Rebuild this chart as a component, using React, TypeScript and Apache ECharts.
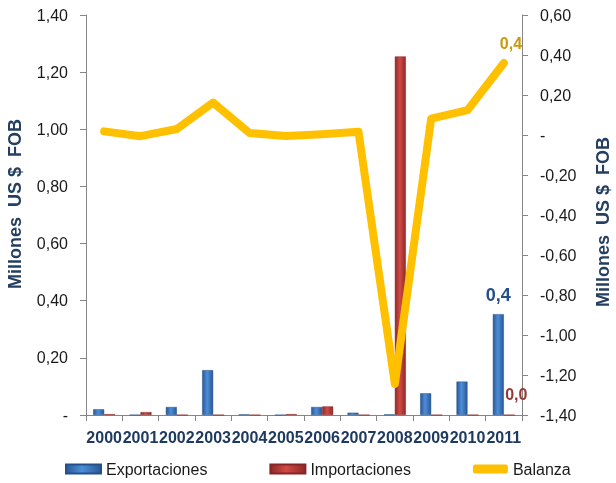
import React, { useEffect, useRef } from "react";
import * as echarts from "echarts";

const categories = ["2000", "2001", "2002", "2003", "2004", "2005", "2006", "2007", "2008", "2009", "2010", "2011"];
const exportaciones = [0.02, 0, 0.028, 0.157, 0.002, 0, 0.028, 0.008, 0.002, 0.076, 0.117, 0.353];
const importaciones = [0.003, 0.01, 0, 0, 0, 0.003, 0.03, 0, 1.255, 0, 0, 0];
const balanza = [0.018, -0.006, 0.03, 0.162, 0.01, -0.005, 0.004, 0.016, -1.245, 0.082, 0.124, 0.36];
const leftTicks = { min: 0, max: 1.4, interval: 0.2 };
const rightTicks = { min: -1.4, max: 0.6, interval: 0.2 };
const axisTitle = "Millones  US $  FOB";

const fmt2 = (v: number) => (Math.abs(v) < 1e-9 ? "-" : v.toFixed(2).replace(".", ","));
const fmt1 = (v: number) => v.toFixed(1).replace(".", ",");

const barGrad = (edge: string, mid: string) =>
  new echarts.graphic.LinearGradient(0, 0, 1, 0, [
    { offset: 0, color: edge },
    { offset: 0.45, color: mid },
    { offset: 1, color: edge },
  ]);

export default function App() {
  const ref = useRef<HTMLDivElement>(null);
  useEffect(() => {
    if (!ref.current) return;
    const chart = echarts.init(ref.current, undefined, { renderer: "svg" });
    const last = categories.length - 1;
    const axisLabelStyle = { fontFamily: "Liberation Sans, Arial", fontSize: 16, color: "#1a1a1a" };
    const titleStyle = {
      text: axisTitle,
      fontFamily: "Liberation Sans, Arial",
      fontSize: 18,
      fontWeight: "bold",
      fill: "#243F60",
      align: "center",
      verticalAlign: "middle",
    };
    chart.setOption({
      animation: false,
      grid: { left: 86, right: 94, top: 15, bottom: 68, containLabel: false },
      legend: {
        left: 65,
        top: 461,
        padding: 0,
        itemWidth: 35,
        itemHeight: 9,
        itemGap: 62,
        textStyle: { fontFamily: "Liberation Sans, Arial", fontSize: 16, color: "#1a1a1a" },
        data: [
          { name: "Exportaciones", icon: "rect" },
          { name: "Importaciones", icon: "rect" },
          { name: "Balanza", icon: "roundRect" },
        ],
      },
      xAxis: {
        type: "category",
        data: categories,
        axisLine: { lineStyle: { color: "#868686", width: 1 } },
        axisTick: { show: true, length: 6, alignWithLabel: false, lineStyle: { color: "#868686" } },
        axisLabel: {
          interval: 0,
          margin: 14,
          fontFamily: "Liberation Sans, Arial",
          fontSize: 16,
          fontWeight: "bold",
          color: "#1F3A60",
        },
        splitLine: { show: false },
      },
      yAxis: [
        {
          type: "value",
          ...leftTicks,
          position: "left",
          axisLine: { show: true, lineStyle: { color: "#868686" } },
          axisTick: { show: true, length: 6, lineStyle: { color: "#868686" } },
          axisLabel: { ...axisLabelStyle, margin: 18, formatter: fmt2 },
          splitLine: { show: false },
        },
        {
          type: "value",
          ...rightTicks,
          position: "right",
          axisLine: { show: true, lineStyle: { color: "#868686" } },
          axisTick: { show: true, length: 6, lineStyle: { color: "#868686" } },
          axisLabel: { ...axisLabelStyle, margin: 18, formatter: fmt2 },
          splitLine: { show: false },
        },
      ],
      graphic: [
        { type: "text", x: 15, y: 204, rotation: Math.PI / 2, style: titleStyle },
        { type: "text", x: 603, y: 222, rotation: Math.PI / 2, style: titleStyle },
      ],
      series: [
        {
          name: "Exportaciones",
          type: "bar",
          yAxisIndex: 0,
          barWidth: 11,
          barGap: "0%",
          itemStyle: { color: barGrad("#2A5894", "#4C8EDA"), borderColor: "#24508A", borderWidth: 0.5 },
          data: exportaciones.map((v, i) =>
            i === last
              ? {
                  value: v,
                  label: {
                    show: true,
                    position: "top",
                    distance: 10,
                    formatter: (p: any) => fmt1(p.value),
                    fontFamily: "Liberation Sans, Arial",
                    fontSize: 18,
                    fontWeight: "bold",
                    color: "#254E8A",
                  },
                }
              : v
          ),
        },
        {
          name: "Importaciones",
          type: "bar",
          yAxisIndex: 0,
          barWidth: 11,
          barGap: "0%",
          itemStyle: { color: barGrad("#8E2A28", "#D24A46"), borderColor: "#842624", borderWidth: 0.5 },
          data: importaciones.map((v, i) =>
            i === last
              ? {
                  value: v,
                  label: {
                    show: true,
                    position: "top",
                    distance: 12,
                    offset: [7, 0],
                    formatter: (p: any) => fmt1(p.value),
                    fontFamily: "Liberation Sans, Arial",
                    fontSize: 16,
                    fontWeight: "bold",
                    color: "#953735",
                  },
                }
              : v
          ),
        },
        {
          name: "Balanza",
          type: "line",
          yAxisIndex: 1,
          symbol: "none",
          showSymbol: false,
          z: 5,
          lineStyle: { color: "#FFC000", width: 8, cap: "round", join: "round" },
          itemStyle: { color: "#FFC000" },
          endLabel: {
            show: true,
            offset: [-12, -20],
            formatter: (p: any) => fmt1(p.value),
            fontFamily: "Liberation Sans, Arial",
            fontSize: 16,
            fontWeight: "bold",
            color: "#CC9A06",
          },
          data: balanza,
        },
      ],
    });
    return () => chart.dispose();
  }, []);
  return <div ref={ref} style={{ position: "fixed", left: 0, top: 0, width: 616, height: 483 }} />;
}
